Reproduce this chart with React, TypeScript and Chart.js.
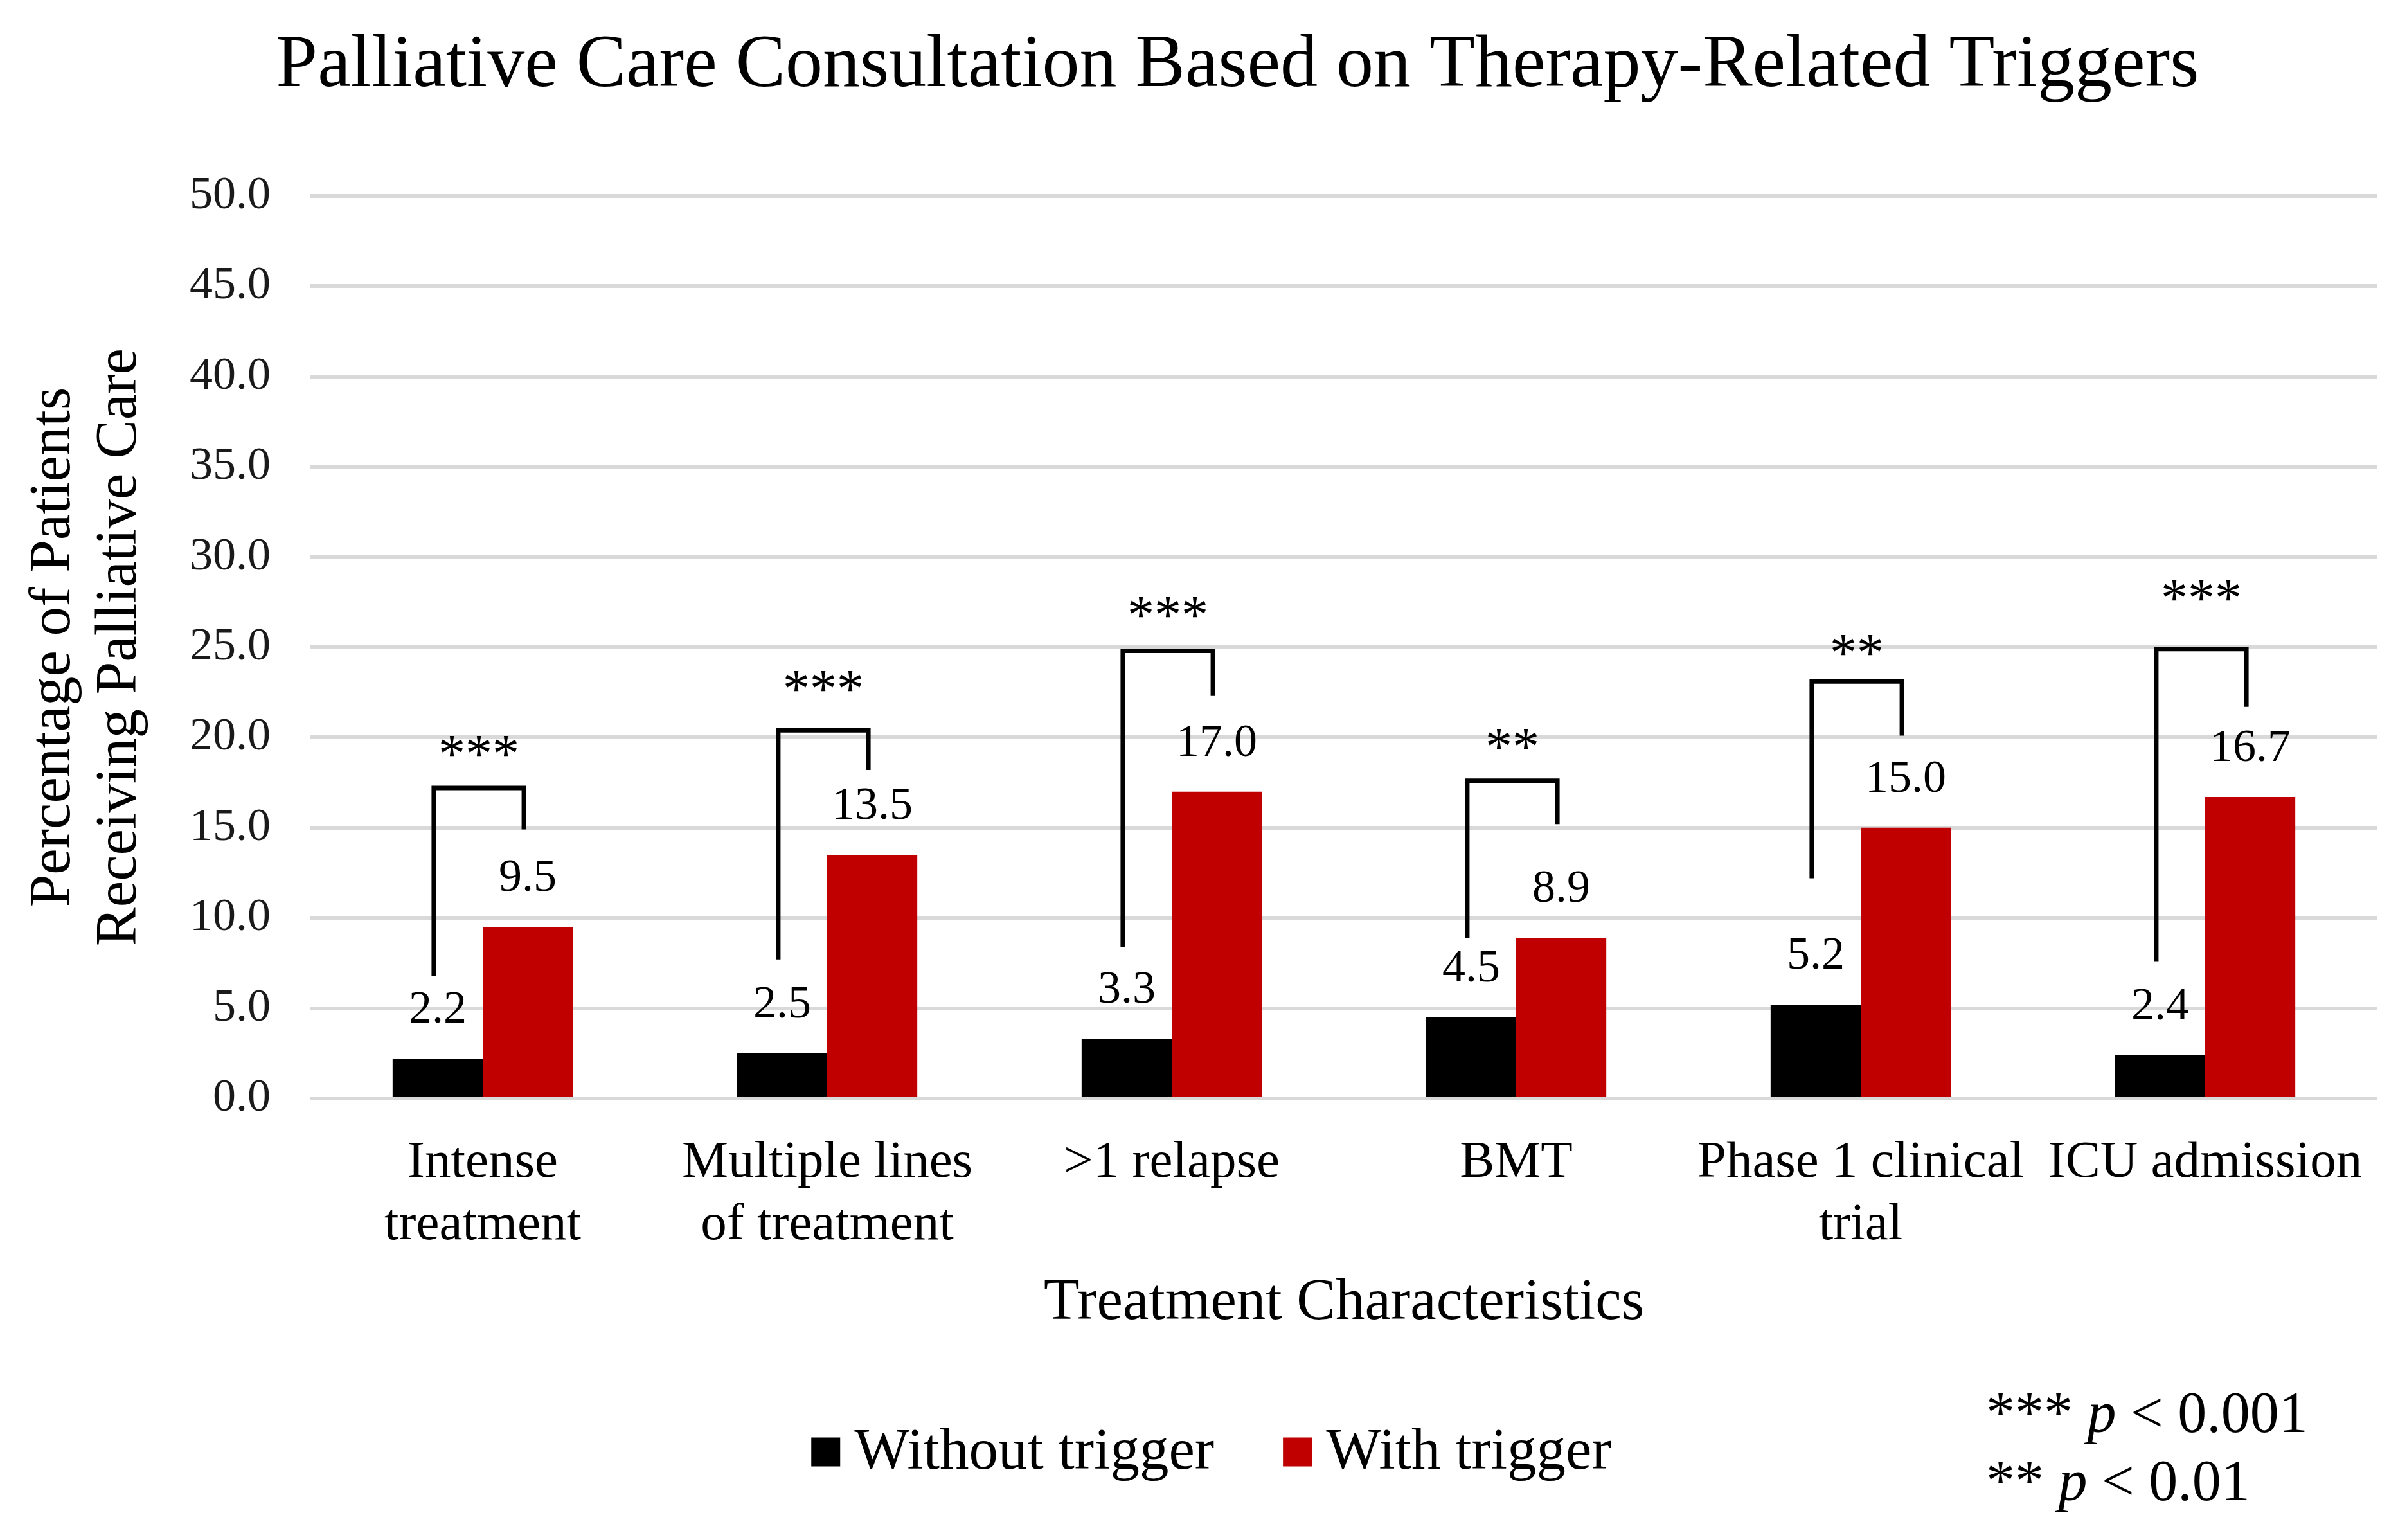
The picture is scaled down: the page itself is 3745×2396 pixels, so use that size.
import React, { useEffect, useRef } from "react";
import { Chart, registerables } from "chart.js";

Chart.register(...registerables);

// ---------- data ----------
const categories: string[][] = [
  ["Intense", "treatment"],
  ["Multiple lines", "of treatment"],
  [">1 relapse"],
  ["BMT"],
  ["Phase 1 clinical", "trial"],
  ["ICU admission"],
];
const seriesNames = ["Without trigger", "With trigger"];
const withoutTrigger = [2.2, 2.5, 3.3, 4.5, 5.2, 2.4];
const withTrigger = [9.5, 13.5, 17.0, 8.9, 15.0, 16.7];
const seriesColors = ["#000000", "#C00000"];

// significance brackets (in y-axis units)
const sigMarks = ["***", "***", "***", "**", "**", "***"];
const bracketTop = [17.2, 20.4, 24.8, 17.6, 23.1, 24.9];
const bracketLeftEnd = [6.8, 7.7, 8.4, 8.9, 12.2, 7.6];
const bracketRightEnd = [14.9, 18.2, 22.3, 15.2, 20.1, 21.7];
const sigLevel = [19.5, 23.1, 27.2, 19.9, 25.1, 28.1];

const yMin = 0;
const yMax = 50;
const yStep = 5;

const titleText = "Palliative Care Consultation Based on Therapy-Related Triggers";
const xTitle = "Treatment Characteristics";
const yTitle = ["Percentage of Patients", "Receiving Palliative Care"];
const pNotes: [string, string, string][] = [
  ["*** ", "p", " < 0.001"],
  ["** ", "p", " < 0.01"],
];

const FONT = "'Liberation Serif', 'Times New Roman', serif";

const valueLabelPlugin = {
  id: "valueLabels",
  afterDatasetsDraw(chart: any) {
    const ctx = chart.ctx;
    ctx.save();
    ctx.font = `72px ${FONT}`;
    ctx.fillStyle = "#000";
    ctx.textAlign = "center";
    ctx.textBaseline = "alphabetic";
    chart.data.datasets.forEach((ds: any, di: number) => {
      const meta = chart.getDatasetMeta(di);
      meta.data.forEach((el: any, i: number) => {
        const v = ds.data[i];
        ctx.fillText(Number(v).toFixed(1), el.x, el.y - 56);
      });
    });
    ctx.restore();
  },
};

const bracketPlugin = {
  id: "brackets",
  afterDatasetsDraw(chart: any) {
    const ctx = chart.ctx;
    const y = chart.scales.y;
    const m0 = chart.getDatasetMeta(0);
    const m1 = chart.getDatasetMeta(1);
    ctx.save();
    ctx.strokeStyle = "#000";
    ctx.lineWidth = 7;
    ctx.lineCap = "butt";
    ctx.lineJoin = "miter";
    const fs = 84;
    ctx.font = `${fs}px ${FONT}`;
    ctx.fillStyle = "#000";
    ctx.textAlign = "center";
    ctx.textBaseline = "alphabetic";
    for (let i = 0; i < sigMarks.length; i++) {
      const lx = m0.data[i].x - 6;
      const rx = m1.data[i].x - 6;
      const top = y.getPixelForValue(bracketTop[i]);
      ctx.beginPath();
      ctx.moveTo(lx, y.getPixelForValue(bracketLeftEnd[i]));
      ctx.lineTo(lx, top);
      ctx.lineTo(rx, top);
      ctx.lineTo(rx, y.getPixelForValue(bracketRightEnd[i]));
      ctx.stroke();
      const sy = y.getPixelForValue(sigLevel[i]) + fs * 0.47;
      ctx.fillText(sigMarks[i], (lx + rx) / 2, sy);
    }
    ctx.restore();
  },
};

const textPlugin = {
  id: "legendNotes",
  afterDraw(chart: any) {
    const ctx = chart.ctx;
    const W = chart.width;
    ctx.save();
    // title
    ctx.font = `116px ${FONT}`;
    ctx.fillStyle = "#000";
    ctx.textAlign = "center";
    ctx.textBaseline = "middle";
    ctx.fillText(titleText, W / 2 + 53, 104);

    // legend
    const fs = 91;
    ctx.font = `${fs}px ${FONT}`;
    ctx.textBaseline = "middle";
    ctx.textAlign = "left";
    const box = 45;
    const gapBox = 22;
    const gapItem = 107;
    const widths = seriesNames.map((n) => ctx.measureText(n).width);
    let total = 0;
    widths.forEach((w, i) => {
      total += box + gapBox + w + (i < widths.length - 1 ? gapItem : 0);
    });
    let x = W / 2 + 12 - total / 2;
    const cy = 2259;
    seriesNames.forEach((n, i) => {
      ctx.fillStyle = seriesColors[i];
      ctx.fillRect(x, cy - box / 2, box, box);
      ctx.fillStyle = "#000";
      ctx.fillText(n, x + box + gapBox, cy + 2);
      x += box + gapBox + widths[i] + gapItem;
    });
    // p-value notes
    const pfs = 90;
    ctx.textBaseline = "alphabetic";
    const baseY = [2228, 2334];
    pNotes.forEach((parts, li) => {
      let px = W - 655;
      parts.forEach((t, pi) => {
        ctx.font = pi === 1 ? `italic ${pfs}px ${FONT}` : `${pfs}px ${FONT}`;
        ctx.fillText(t, px, baseY[li]);
        px += ctx.measureText(t).width;
      });
    });
    ctx.restore();
  },
};

export default function App() {
  const ref = useRef<HTMLCanvasElement | null>(null);
  useEffect(() => {
    document.body.style.margin = "0";
    if (!ref.current) return;
    Chart.defaults.font.family = FONT;
    const chart = new Chart(ref.current, {
      type: "bar",
      data: {
        labels: categories,
        datasets: [
          {
            label: seriesNames[0],
            data: withoutTrigger,
            backgroundColor: seriesColors[0],
            categoryPercentage: 0.523,
            barPercentage: 1,
          },
          {
            label: seriesNames[1],
            data: withTrigger,
            backgroundColor: seriesColors[1],
            categoryPercentage: 0.523,
            barPercentage: 1,
          },
        ],
      },
      options: {
        responsive: false,
        animation: false,
        devicePixelRatio: 1,
        layout: { padding: { top: 305, left: 0, right: 46, bottom: 250 } },
        plugins: {
          legend: { display: false },
          tooltip: { enabled: false },
          title: { display: false },
        },
        scales: {
          x: {
            grid: { display: false, drawTicks: false },
            border: { display: false },
            ticks: {
              color: "#000",
              font: { size: 81, family: FONT, lineHeight: 1.2 },
              padding: 52,
              maxRotation: 0,
              minRotation: 0,
              autoSkip: false,
            },
            title: {
              display: true,
              text: xTitle,
              color: "#000",
              font: { size: 91, family: FONT, lineHeight: 1.2 },
              padding: { top: 18, bottom: 63 },
            },
            afterFit(scale: any) {
              scale.height = 437;
            },
          },
          y: {
            min: yMin,
            max: yMax,
            border: { display: false },
            grid: { color: "#d9d9d9", lineWidth: 6, drawTicks: false },
            ticks: {
              stepSize: yStep,
              color: "#1a1a1a",
              font: { size: 72, family: FONT },
              padding: 62,
              callback: (v: any) => Number(v).toFixed(1),
            },
            title: {
              display: true,
              text: yTitle,
              color: "#000",
              font: { size: 91, family: FONT, lineHeight: 1.13 },
              padding: { top: 33, bottom: 0 },
            },
            afterFit(scale: any) {
              scale.width = 483;
            },
          },
        },
      },
      plugins: [valueLabelPlugin, bracketPlugin, textPlugin],
    } as any);
    return () => chart.destroy();
  }, []);
  return <canvas ref={ref} width={3745} height={2396} style={{ display: "block", width: 3745, height: 2396 }} />;
}
